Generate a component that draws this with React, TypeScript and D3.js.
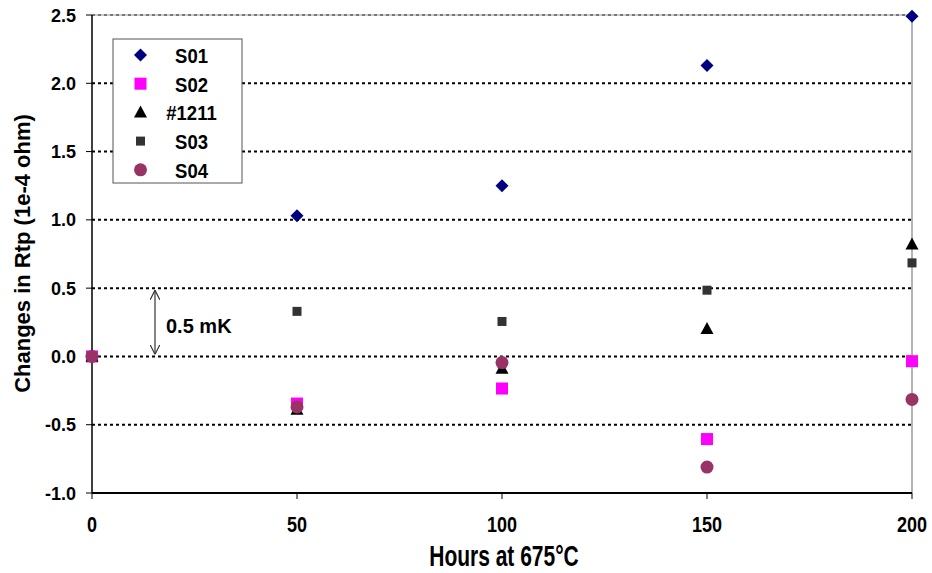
import React from "react";
import * as d3 from "d3";

const hours = [0, 50, 100, 150, 200];
const s01 = [0, 1.03, 1.25, 2.13, 2.49];
const s02 = [0, -0.345, -0.235, -0.605, -0.035];
const s1211 = [0, -0.39, -0.09, 0.2, 0.82];
const s03 = [0, 0.33, 0.256, 0.485, 0.685];
const s04 = [0, -0.37, -0.045, -0.81, -0.315];
const yTicks = [-1.0, -0.5, 0.0, 0.5, 1.0, 1.5, 2.0, 2.5];
const xTicks = [0, 50, 100, 150, 200];

const seriesNames = ["S01", "S02", "#1211", "S03", "S04"];
const seriesValues = [s01, s02, s1211, s03, s04];
const seriesColors = ["#000080", "#FF00FF", "#000000", "#333333", "#993366"];
const seriesShapes = ["diamond", "square", "triangle", "smallsquare", "circle"];

const W = 932, H = 573;
const L = 92, R = 912, T = 15, B = 493;
const font = "'Liberation Sans', Arial, sans-serif";

function Marker({ shape, x, y, color }: { shape: string; x: number; y: number; color: string }) {
  if (shape === "diamond") {
    const s = 6.5;
    return <path d={`M${x},${y - s}L${x + s},${y}L${x},${y + s}L${x - s},${y}Z`} fill={color} />;
  }
  if (shape === "square") {
    return <rect x={x - 6} y={y - 6} width={12} height={12} fill={color} />;
  }
  if (shape === "smallsquare") {
    return <rect x={x - 4.5} y={y - 4.5} width={9} height={9} fill={color} />;
  }
  if (shape === "triangle") {
    return <path d={`M${x},${y - 7}L${x + 6.5},${y + 5}L${x - 6.5},${y + 5}Z`} fill={color} />;
  }
  return <circle cx={x} cy={y} r={6.5} fill={color} />;
}

const fmt = (t: number) => d3.format(".1f")(t).replace("\u2212", "-");

export default function App() {
  const x = d3.scaleLinear().domain([0, 200]).range([L, R]);
  const y = d3.scaleLinear().domain([-1, 2.5]).range([B, T]);

  return (
    <svg width={W} height={H} style={{ display: "block", position: "absolute", left: 0, top: 0 }} fontFamily={font}>
      <rect x={0} y={0} width={W} height={H} fill="#fff" />
      {/* plot border top/right */}
      <line x1={L} x2={R} y1={T} y2={T} stroke="#999" strokeWidth={1} />
      <line x1={R} x2={R} y1={T} y2={B} stroke="#999" strokeWidth={1.5} />
      {/* gridlines */}
      {yTicks.filter((t) => t > -1).map((t) => (
        <line key={t} x1={L} x2={R} y1={y(t)} y2={y(t)} stroke={t === 2.5 ? "#777" : "#000"} strokeWidth={2} strokeDasharray="3,3" />
      ))}
      {/* axes */}
      <line x1={L} x2={L} y1={T} y2={B} stroke="#000" strokeWidth={1.5} />
      <line x1={L} x2={R} y1={B} y2={B} stroke="#000" strokeWidth={2} />
      {yTicks.map((t) => (
        <g key={t}>
          <line x1={L - 6} x2={L} y1={y(t)} y2={y(t)} stroke="#000" strokeWidth={1} />
          <text x={76} y={y(t) + 6.6} textAnchor="end" fontSize={18} fontWeight="bold">
            {fmt(t)}
          </text>
        </g>
      ))}
      {xTicks.map((t) => (
        <g key={t}>
          <line x1={x(t)} x2={x(t)} y1={B} y2={B + 6} stroke="#000" strokeWidth={1} />
          <text transform={`translate(${x(t)},532) scale(1,1.2)`} textAnchor="middle" fontSize={18} fontWeight="bold">
            {t}
          </text>
        </g>
      ))}
      <text transform="translate(504,565.5) scale(1,1.4)" textAnchor="middle" fontSize={21} fontWeight="bold">
        Hours at 675°C
      </text>
      <text transform={`translate(30,253.5) rotate(-90)`} textAnchor="middle" fontSize={22} fontWeight="bold">
        Changes in Rtp (1e-4 ohm)
      </text>
      {/* annotation */}
      <defs>
        <marker id="ah" viewBox="0 0 10 10" refX="10" refY="5" markerWidth="8" markerHeight="8" orient="auto-start-reverse">
          <path d="M0,0L10,5L0,10" fill="none" stroke="#333" strokeWidth={1.2} />
        </marker>
      </defs>
      <line x1={155} x2={155} y1={y(0.5) + 2} y2={y(0) - 2} stroke="#333" strokeWidth={1.2} markerStart="url(#ah)" markerEnd="url(#ah)" />
      <text x={166} y={332.5} fontSize={20} fontWeight="bold">0.5 mK</text>
      {/* data */}
      {seriesValues.map((vals, si) =>
        vals.map((v, i) => (
          <Marker key={`${si}-${i}`} shape={seriesShapes[si]} x={x(hours[i])} y={y(v)} color={seriesColors[si]} />
        ))
      )}
      {/* legend */}
      <rect x={113} y={39} width={129} height={144} fill="#fff" stroke="#555" strokeWidth={1} />
      {seriesNames.map((n, i) => {
        const ry = 55 + i * 28.7;
        return (
          <g key={n}>
            <Marker shape={seriesShapes[i]} x={140.5} y={ry} color={seriesColors[i]} />
            <text transform={`translate(191.5,${ry + 8}) scale(1,1.12)`} textAnchor="middle" fontSize={18.5} fontWeight="bold">{n}</text>
          </g>
        );
      })}
    </svg>
  );
}
